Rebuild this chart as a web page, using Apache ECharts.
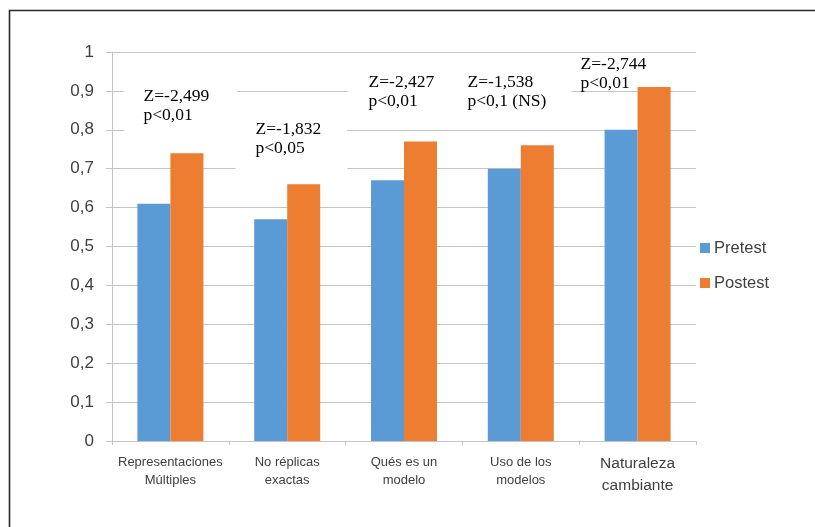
<!DOCTYPE html>
<html>
<head>
<meta charset="utf-8">
<script src="https://cdn.jsdelivr.net/npm/echarts@6/dist/echarts.min.js"></script>
<style>html,body{margin:0;padding:0;background:#fff;}#c{width:815px;height:527px;}</style>
</head>
<body>
<div id="c"></div>
<script>
const categories = ['Representaciones\nMúltiples', 'No réplicas\nexactas', 'Qués es un\nmodelo', 'Uso de los\nmodelos', 'Naturaleza\ncambiante'];
const seriesNames = ['Pretest', 'Postest'];
const pretest = [0.61, 0.57, 0.67, 0.70, 0.80];
const postest = [0.74, 0.66, 0.77, 0.76, 0.91];
const yMin = 0, yMax = 1, yStep = 0.1;
const annotationTexts = ['Z=-2,499\np<0,01', 'Z=-1,832\np<0,05', 'Z=-2,427\np<0,01', 'Z=-1,538\np<0,1 (NS)', 'Z=-2,744\np<0,01'];
// annotation anchors (value at text top) and layout
const annotationAnchorValue = [0.910, 0.825, 0.947, 0.947, 0.992];
const annotationDx = [-29.4, -35.2, -39, -56.8, -40.6];
const annotationPad = [[0, 28, 10, 19], [0, 26, 16, 20], [0, 30, 4, 20], [0, 25, 4, 20], [0, 0, 0, 0]];
const annotationBg = [true, true, true, true, false];

const colors = ['#5B9BD5', '#ED7D31'];
const gridColor = '#c4c4c4';

const chart = echarts.init(document.getElementById('c'), null, {renderer: 'canvas'});

const markData = annotationTexts.map((t, i) => ({
  coord: [i, annotationAnchorValue[i]],
  value: t,
  label: {
    show: true,
    formatter: t,
    position: [annotationDx[i], 0],
    align: 'left',
    verticalAlign: 'top',
    fontFamily: '"Liberation Serif", "DejaVu Serif", serif',
    fontSize: 17.5,
    lineHeight: 19,
    color: '#000',
    padding: annotationPad[i],
    backgroundColor: annotationBg[i] ? '#fff' : 'transparent'
  }
}));

const option = {
  animation: false,
  backgroundColor: '#fff',
  color: colors,
  graphic: [{
    type: 'rect',
    left: 7, top: 8,
    shape: {width: 900, height: 600},
    style: {fill: 'none', stroke: '#2a2a2a', lineWidth: 1.6},
    silent: true, z: 100
  }],
  grid: {left: 112, right: 119, top: 52, bottom: 86, containLabel: false},
  legend: {
    orient: 'vertical',
    left: 695, top: 233,
    itemWidth: 10, itemHeight: 10, itemGap: 15,
    icon: 'rect',
    textStyle: {fontFamily: '"Liberation Sans", Arial, sans-serif', fontSize: 16.5, color: '#404040', lineHeight: 20, padding: [0, 0, 0, -1]},
    data: seriesNames
  },
  xAxis: {
    type: 'category',
    data: categories,
    axisLine: {lineStyle: {color: gridColor, width: 1}},
    axisTick: {show: true, length: 4, lineStyle: {color: gridColor}},
    axisLabel: {
      margin: 12,
      interval: 0,
      formatter: function (v, idx) {
        const lines = v.split('\n');
        const k = idx === 4 ? 'b' : 'a';
        return lines.map(l => '{' + k + '|' + l + '}').join('\n');
      },
      rich: {
        a: {fontFamily: '"Liberation Sans", Arial, sans-serif', fontSize: 13, lineHeight: 18, color: '#404040', align: 'center'},
        b: {fontFamily: '"Liberation Sans", Arial, sans-serif', fontSize: 15.5, lineHeight: 22, color: '#404040', align: 'center'}
      }
    }
  },
  yAxis: {
    type: 'value',
    min: yMin, max: yMax, interval: yStep,
    axisLine: {show: true, lineStyle: {color: gridColor, width: 1}},
    axisTick: {show: true, inside: false, length: 6, lineStyle: {color: gridColor}},
    splitLine: {show: true, lineStyle: {color: gridColor, width: 1}},
    axisLabel: {
      margin: 18,
      fontFamily: '"Liberation Sans", Arial, sans-serif',
      fontSize: 17,
      color: '#404040',
      formatter: v => String(Math.round(v * 10) / 10).replace('.', ',')
    }
  },
  series: [
    {
      name: seriesNames[0], type: 'bar', data: pretest,
      barWidth: 33, barGap: '0%',
      itemStyle: {color: colors[0]},
      markPoint: {
        symbol: 'rect', symbolSize: 0, silent: true,
        data: markData
      },
      z: 2
    },
    {
      name: seriesNames[1], type: 'bar', data: postest,
      barWidth: 33, barGap: '0%',
      itemStyle: {color: colors[1]},
      z: 2
    }
  ]
};
chart.setOption(option);
</script>
</body>
</html>
